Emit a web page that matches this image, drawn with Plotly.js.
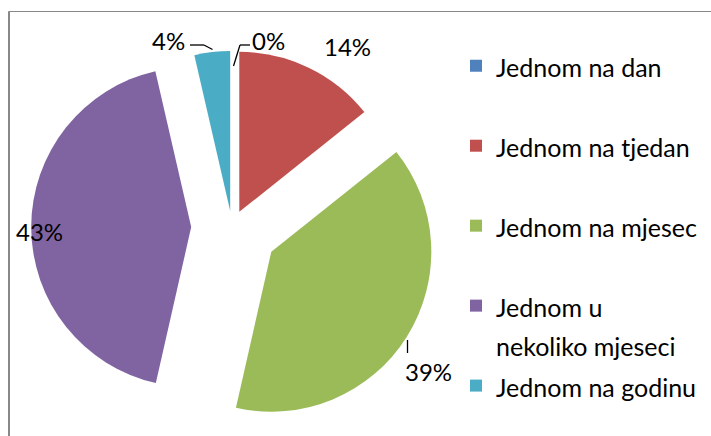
<!DOCTYPE html>
<html><head><meta charset="utf-8">
<script src="https://cdn.plot.ly/plotly-3.0.1.min.js"></script>
<style>html,body{margin:0;padding:0;background:#fff}#chart{width:711px;height:436px}</style>
</head><body><div id="chart"></div>
<script>
// ---- data ----
const categories = ['Jednom na dan', 'Jednom na tjedan', 'Jednom na mjesec', 'Jednom u nekoliko mjeseci', 'Jednom na godinu'];
const legendLabels = ['Jednom na dan', 'Jednom na tjedan', 'Jednom na mjesec', 'Jednom u<br>nekoliko mjeseci', 'Jednom na godinu'];
const shares = [0, 14.3, 39.3, 42.9, 3.6];

// ---- styles / layout ----
const colors = ['#4F81BD', '#C0504D', '#9BBB59', '#8064A2', '#4BACC6'];
const pulls = [0.1, 0.105, 0.29, 0.255, 0.1];
const W = 711, H = 436;
const FONT = 'Lato, "Open Sans", sans-serif';
const px = x => x / W;
const py = y => 1 - y / H;
// label centres (px) for each category, in category order
const labelPos = [[268.5, 40], [347, 47], [428, 371], [39, 231], [168, 40]];

const total = shares.reduce((a, b) => a + b, 0);
const pctText = shares.map(v => Math.round(v / total * 100) + '%');

// every legend entry but the last gets two lines so entries are evenly spaced
const legendText = legendLabels.map((l, i) => {
  const lines = l.split('<br>');
  if (lines.length < 2 && i < legendLabels.length - 1) lines.push(' ');
  return lines.map(s => '<span style="font-size:25px">' + s + '</span>').join('<br>');
});

const trace = {
  type: 'pie',
  labels: legendText,
  values: shares,
  sort: false,
  direction: 'clockwise',
  rotation: 0,
  pull: pulls,
  marker: {colors: colors, line: {width: 0}},
  textinfo: 'none',
  hoverinfo: 'none',
  domain: {x: [px(25.6), px(438.4)], y: [py(433.4), py(20.6)]}
};

const annotations = pctText.map((t, i) => ({
  xref: 'paper', yref: 'paper',
  x: px(labelPos[i][0]), y: py(labelPos[i][1]),
  xanchor: 'center', yanchor: 'middle',
  text: t, showarrow: false,
  font: {family: FONT, size: 24, color: '#000'}
}));

function seg(x0, y0, x1, y1, w, c) {
  return {type: 'line', xref: 'paper', yref: 'paper',
    x0: px(x0), y0: py(y0), x1: px(x1), y1: py(y1),
    line: {color: c, width: w}};
}
const shapes = [
  seg(8.5, 11.5, 720, 11.5, 1.2, '#888'),
  seg(9, 11.5, 9, 445, 2, '#888'),
  // leader lines
  seg(250, 45, 240, 45, 1.3, '#000'),
  seg(240, 45, 233.5, 66, 1.3, '#000'),
  seg(190, 45, 204, 45, 1.3, '#000'),
  seg(204, 45, 212.5, 49.5, 1.3, '#000'),
  seg(407.5, 340, 407.5, 353, 1.3, '#000')
];

const layout = {
  width: W, height: H,
  margin: {l: 0, r: 0, t: 0, b: 0},
  paper_bgcolor: '#fff',
  showlegend: true,
  legend: {
    x: px(456), xanchor: 'left',
    y: py(40), yanchor: 'top',
    valign: 'top',
    font: {family: FONT, size: 29.6, color: '#000'},
    bgcolor: 'rgba(0,0,0,0)', borderwidth: 0,
    traceorder: 'normal'
  },
  annotations: annotations,
  shapes: shapes
};

Plotly.newPlot('chart', [trace], layout, {staticPlot: true, displayModeBar: false});
</script>
</body></html>
